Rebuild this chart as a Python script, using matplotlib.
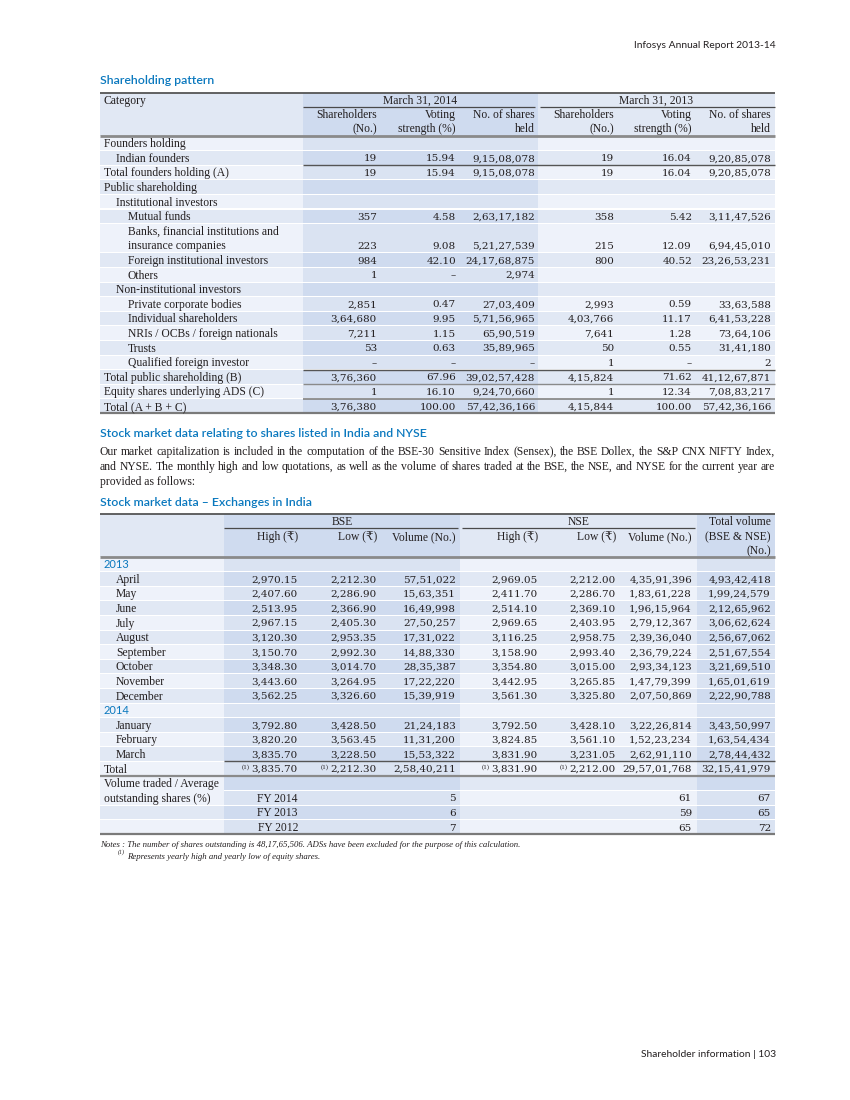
import matplotlib
matplotlib.use("Agg")
import matplotlib.pyplot as plt
from matplotlib.patches import Rectangle

# ---------------- data ----------------
DASH = "–"
t1_categories = ["Founders holding", "Indian founders", "Total founders holding (A)",
                 "Public shareholding", "Institutional investors", "Mutual funds",
                 "Banks, financial institutions and\ninsurance companies",
                 "Foreign institutional investors", "Others", "Non-institutional investors",
                 "Private corporate bodies", "Individual shareholders",
                 "NRIs / OCBs / foreign nationals", "Trusts", "Qualified foreign investor",
                 "Total public shareholding (B)", "Equity shares underlying ADS (C)",
                 "Total (A + B + C)"]
t1_indent = [0, 1, 0, 0, 1, 2, 2, 2, 2, 1, 2, 2, 2, 2, 2, 0, 0, 0]
holders_2014 = [None, 19, 19, None, None, 357, 223, 984, 1, None, 2851, 364680, 7211, 53, DASH,
                376360, 1, 376380]
voting_2014 = [None, 15.94, 15.94, None, None, 4.58, 9.08, 42.10, DASH, None, 0.47, 9.95, 1.15,
               0.63, DASH, 67.96, 16.10, 100.00]
shares_2014 = [None, 91508078, 91508078, None, None, 26317182, 52127539, 241768875, 2974, None,
               2703409, 57156965, 6590519, 3589965, DASH, 390257428, 92470660, 574236166]
holders_2013 = [None, 19, 19, None, None, 358, 215, 800, None, None, 2993, 403766, 7641, 50, 1,
                415824, 1, 415844]
voting_2013 = [None, 16.04, 16.04, None, None, 5.42, 12.09, 40.52, None, None, 0.59, 11.17, 1.28,
               0.55, DASH, 71.62, 12.34, 100.00]
shares_2013 = [None, 92085078, 92085078, None, None, 31147526, 69445010, 232653231, None, None,
               3363588, 64153228, 7364106, 3141180, 2, 411267871, 70883217, 574236166]

months = ["April", "May", "June", "July", "August", "September", "October", "November",
          "December", "January", "February", "March"]
month_years = [2013] * 9 + [2014] * 3
bse_high = [2970.15, 2407.60, 2513.95, 2967.15, 3120.30, 3150.70, 3348.30, 3443.60, 3562.25,
            3792.80, 3820.20, 3835.70]
bse_low = [2212.30, 2286.90, 2366.90, 2405.30, 2953.35, 2992.30, 3014.70, 3264.95, 3326.60,
           3428.50, 3563.45, 3228.50]
bse_vol = [5751022, 1563351, 1649998, 2750257, 1731022, 1488330, 2835387, 1722220, 1539919,
           2124183, 1131200, 1553322]
nse_high = [2969.05, 2411.70, 2514.10, 2969.65, 3116.25, 3158.90, 3354.80, 3442.95, 3561.30,
            3792.50, 3824.85, 3831.90]
nse_low = [2212.00, 2286.70, 2369.10, 2403.95, 2958.75, 2993.40, 3015.00, 3265.85, 3325.80,
           3428.10, 3561.10, 3231.05]
nse_vol = [43591396, 18361228, 19615964, 27912367, 23936040, 23679224, 29334123, 14779399,
           20750869, 32226814, 15223234, 26291110]
total_vol = [49342418, 19924579, 21265962, 30662624, 25667062, 25167554, 32169510, 16501619,
             22290788, 34350997, 16354434, 27844432]
total_row = {"bse_high": 3835.70, "bse_low": 2212.30, "bse_vol": 25840211,
             "nse_high": 3831.90, "nse_low": 2212.00, "nse_vol": 295701768,
             "total_vol": 321541979}
fy_labels = ["FY 2014", "FY 2013", "FY 2012"]
bse_turnover = [5, 6, 7]
nse_turnover = [61, 59, 65]
total_turnover = [67, 65, 72]

para_lines = [
    "Our market capitalization is included in the computation of the BSE-30 Sensitive Index (Sensex), the BSE Dollex, the S&P CNX NIFTY Index,",
    "and NYSE. The monthly high and low quotations, as well as the volume of shares traded at the BSE, the NSE, and NYSE for the current year are",
    "provided as follows:",
]

# ---------------- style ----------------
TSERIF = ["Liberation Serif", "DejaVu Serif", "DejaVu Sans"]   # words
NSERIF = ["DejaVu Serif", "DejaVu Sans"]                       # figures
SANS = ["Lato", "DejaVu Sans"]
TXT = "#231f20"
BLUE = "#0a78be"
LIGHT = "#eef2fa"
MID = "#e1e8f4"
DARK_L = "#dae3f2"
DARK_D = "#cfdbef"
FS_T = 8.4
FS_N = 7.5


def indian(v, dec=0):
    if v is None:
        return ""
    if isinstance(v, str):
        return v
    s = f"{v:.{dec}f}"
    if dec:
        ip, fp = s.split(".")
    else:
        ip, fp = s, None
    if len(ip) > 3:
        head, tail = ip[:-3], ip[-3:]
        groups = []
        while len(head) > 2:
            groups.insert(0, head[-2:])
            head = head[:-2]
        if head:
            groups.insert(0, head)
        ip = ",".join(groups + [tail])
    return ip + ("." + fp if fp else "")


fig = plt.figure(figsize=(8.5, 11), dpi=100)
ax = fig.add_axes([0, 0, 1, 1])
ax.set_xlim(0, 850)
ax.set_ylim(1100, 0)
ax.axis("off")
renderer = fig.canvas.get_renderer()


def txt(x, y, s, ha="left", size=FS_T, color=TXT, family=TSERIF, capk=0.33, **kw):
    off = capk * size * 100 / 72
    return ax.text(x, y + off, s, ha=ha, va="baseline", fontsize=size, color=color,
                   family=family, **kw)


def num(x, y, s, **kw):
    return txt(x, y, s, ha="right", size=FS_N, family=NSERIF, capk=0.33, **kw)


def rect(x0, x1, y0, y1, color):
    ax.add_patch(Rectangle((x0, y0), x1 - x0, y1 - y0, facecolor=color, edgecolor="none"))


def hline(y, x0, x1, color="#4a4a4a", lw=1.0):
    ax.plot([x0, x1], [y, y], color=color, lw=lw, solid_capstyle="butt")


def num_with_sup(x, y, s):
    t = num(x, y, s)
    w = t.get_window_extent(renderer).width
    txt(x - w - 2, y - 2.5, "(1)", ha="right", size=5.0)


# page header / footer
txt(776, 45, "Infosys Annual Report 2013-14", ha="right", size=7.4, family=SANS)
txt(776, 1054, "Shareholder information | 103", ha="right", size=7.4, family=SANS)

HEAD_FS = 8.8
# ================= Table 1 =================
txt(100, 80, "Shareholding pattern", size=HEAD_FS, color=BLUE, family=SANS, fontweight="semibold")
X0, X1 = 100, 775
t1_top, t1_hb, RH = 93, 136, 14.6
c_cat = (100, 303)
c_a = (303, 538)
c_b = (538, 775)

rect(c_cat[0], c_cat[1], t1_top, t1_hb, MID)
rect(c_a[0], c_a[1], t1_top, t1_hb, DARK_D)
rect(c_b[0], c_b[1], t1_top, t1_hb, MID)

spans = [2 if "\n" in c else 1 for c in t1_categories]
y = t1_hb
rows1 = []
for sp in spans:
    rows1.append((y, y + sp * RH))
    y += sp * RH
t1_bottom = y

for i, (ya, yb) in enumerate(rows1):
    dark = i % 2 == 1
    rect(c_cat[0], c_cat[1], ya + 0.5, yb - 0.5, MID if dark else LIGHT)
    rect(c_a[0], c_a[1], ya + 0.5, yb - 0.5, DARK_D if dark else DARK_L)
    rect(c_b[0], c_b[1], ya + 0.5, yb - 0.5, MID if dark else LIGHT)

txt(104, 100, "Category")
txt((c_a[0] + c_a[1]) / 2, 100, "March 31, 2014", ha="center")
txt((c_b[0] + c_b[1]) / 2, 100, "March 31, 2013", ha="center")
hline(107, c_a[0], c_a[1] - 3, lw=0.9)
hline(107, c_b[0] + 2, c_b[1], lw=0.9)
t1_right = [377, 456, 535, 614, 692, 771]
heads1 = [("Shareholders", "(No.)"), ("Voting", "strength (%)"), ("No. of shares", "held")] * 2
for xr, (l1, l2) in zip(t1_right, heads1):
    txt(xr, 114, l1, ha="right")
    txt(xr, 128.5, l2, ha="right")

indent_x = [104, 116, 128]
cols1 = [(holders_2014, 0), (voting_2014, 2), (shares_2014, 0),
         (holders_2013, 0), (voting_2013, 2), (shares_2013, 0)]
for i, (ya, yb) in enumerate(rows1):
    lines = t1_categories[i].split("\n")
    ycen = yb - RH / 2
    for k, ln in enumerate(lines):
        txt(indent_x[t1_indent[i]], ya + (k + 0.5) * RH, ln)
    for (vals, dec), xr in zip(cols1, t1_right):
        s = indian(vals[i], dec)
        if s:
            num(xr, ycen, s)

hline(t1_top, X0, X1, color="#555555", lw=1.3)
hline(t1_hb, X0, X1, color="#8a8a8a", lw=2.0)
hline(rows1[2][0], c_a[0], X1, color="#555555", lw=1.0)
hline(rows1[15][0], c_a[0], X1, color="#555555", lw=1.0)
hline(rows1[16][0], c_a[0], X1, color="#8a8a8a", lw=1.0)
hline(rows1[17][0], c_a[0], X1, color="#8a8a8a", lw=1.3)
hline(t1_bottom, X0, X1, color="#7a7a7a", lw=1.6)

# ================= Paragraph =================
txt(100, 433, "Stock market data relating to shares listed in India and NYSE", size=HEAD_FS,
    color=BLUE, family=SANS, fontweight="semibold")
para_y = [451, 466, 481]
for k, (line, py) in enumerate(zip(para_lines, para_y)):
    if k < len(para_lines) - 1:
        words = line.split(" ")
        widths = []
        for w in words:
            t = txt(0, -100, w)
            widths.append(t.get_window_extent(renderer).width)
            t.remove()
        gap = (X1 - X0 - sum(widths)) / (len(words) - 1)
        xx = X0
        for w, wd in zip(words, widths):
            txt(xx, py, w)
            xx += wd + gap
    else:
        txt(X0, py, line)

# ================= Table 2 =================
txt(100, 502, "Stock market data – Exchanges in India", size=HEAD_FS, color=BLUE, family=SANS,
    fontweight="semibold")
t2_top, t2_hb = 514, 557
c_lab = (100, 224)
c_bse = (224, 460)
c_nse = (460, 697)
c_tot = (697, 775)
rect(c_lab[0], c_lab[1], t2_top, t2_hb, MID)
rect(c_bse[0], c_bse[1], t2_top, t2_hb, DARK_D)
rect(c_nse[0], c_nse[1], t2_top, t2_hb, MID)
rect(c_tot[0], c_tot[1], t2_top, t2_hb, DARK_D)

n2 = 19
rows2 = [(t2_hb + i * RH, t2_hb + (i + 1) * RH) for i in range(n2)]
for i, (ya, yb) in enumerate(rows2):
    dark = i % 2 == 1
    if i not in (15, 16):
        rect(c_lab[0], c_lab[1], ya + 0.5, yb - 0.5, MID if dark else LIGHT)
    rect(c_bse[0], c_bse[1], ya + 0.5, yb - 0.5, DARK_D if dark else DARK_L)
    rect(c_nse[0], c_nse[1], ya + 0.5, yb - 0.5, MID if dark else LIGHT)
    rect(c_tot[0], c_tot[1], ya + 0.5, yb - 0.5, DARK_D if dark else DARK_L)
rect(c_lab[0], c_lab[1], rows2[15][0] + 0.5, rows2[16][1] - 0.5, LIGHT)

txt((c_bse[0] + c_bse[1]) / 2, 521, "BSE", ha="center")
txt((c_nse[0] + c_nse[1]) / 2, 521, "NSE", ha="center")
txt(771, 521, "Total volume", ha="right")
hline(528, c_bse[0], c_bse[1] - 2, lw=0.9)
hline(528, c_nse[0] + 2, c_nse[1] - 2, lw=0.9)
t2_right = [298, 377, 456, 538, 616, 692, 771]
heads2 = ["High (₹)", "Low (₹)", "Volume (No.)", "High (₹)", "Low (₹)", "Volume (No.)",
          "(BSE & NSE)"]
for xr, h in zip(t2_right, heads2):
    txt(xr, 536, h, ha="right")
txt(771, 550, "(No.)", ha="right")


def rc(i):
    return (rows2[i][0] + rows2[i][1]) / 2


r = 0
cur_year = None
for m, yr, bh, bl, bv, nh, nl, nv, tv in zip(months, month_years, bse_high, bse_low, bse_vol,
                                            nse_high, nse_low, nse_vol, total_vol):
    if yr != cur_year:
        txt(104, rc(r), str(yr), color=BLUE, family=SANS, size=8)
        cur_year = yr
        r += 1
    txt(116, rc(r), m)
    for xr, v, d in zip(t2_right, [bh, bl, bv, nh, nl, nv, tv], [2, 2, 0, 2, 2, 0, 0]):
        num(xr, rc(r), indian(v, d))
    r += 1

tr = r
txt(104, rc(tr), "Total")
num_with_sup(t2_right[0], rc(tr), indian(total_row["bse_high"], 2))
num_with_sup(t2_right[1], rc(tr), indian(total_row["bse_low"], 2))
num(t2_right[2], rc(tr), indian(total_row["bse_vol"]))
num_with_sup(t2_right[3], rc(tr), indian(total_row["nse_high"], 2))
num_with_sup(t2_right[4], rc(tr), indian(total_row["nse_low"], 2))
num(t2_right[5], rc(tr), indian(total_row["nse_vol"]))
num(t2_right[6], rc(tr), indian(total_row["total_vol"]))

txt(104, rc(tr + 1), "Volume traded / Average")
txt(104, rc(tr + 2), "outstanding shares (%)")
for k, (fy, b, n, t) in enumerate(zip(fy_labels, bse_turnover, nse_turnover, total_turnover)):
    rr = tr + 2 + k
    txt(t2_right[0], rc(rr), fy, ha="right")
    num(t2_right[2], rc(rr), str(b))
    num(t2_right[5], rc(rr), str(n))
    num(t2_right[6], rc(rr), str(t))

hline(t2_top, X0, X1, color="#555555", lw=1.3)
hline(t2_hb, X0, X1, color="#8a8a8a", lw=2.0)
hline(rows2[tr][0], c_bse[0], X1, color="#555555", lw=1.0)
hline(rows2[tr][1], X0, X1, color="#8a8a8a", lw=1.6)
hline(rows2[-1][1], X0, X1, color="#7a7a7a", lw=1.6)

# notes
txt(100, 844, "Notes : The number of shares outstanding is 48,17,65,506. ADSs have been excluded for the purpose of this calculation.",
    size=6.3, style="italic")
txt(118, 852, "(1)", size=4.2, style="italic")
txt(127, 856, "Represents yearly high and yearly low of equity shares.", size=6.3, style="italic")

fig.savefig("out.png", dpi=100)
